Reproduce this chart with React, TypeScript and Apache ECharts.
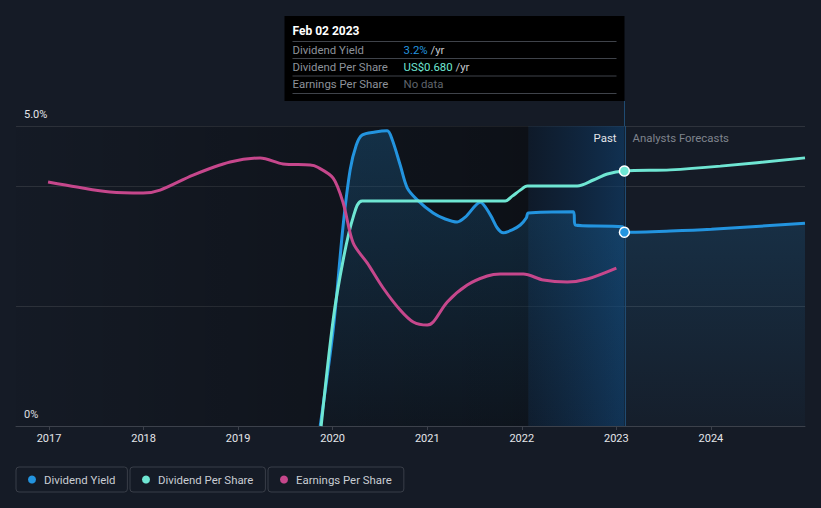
import React, { useEffect, useRef } from "react";
import * as echarts from "echarts";

// x values are decimal years
const xMin = 2016.651;
const xMax = 2024.995;
const yearTicks = [2017, 2018, 2019, 2020, 2021, 2022, 2023, 2024];
const pastEnd = 2023.085; // Feb 02 2023
const bandStart = 2022.07;
const tooltipDate = "Feb 02 2023";

const dividendYield: [number, number][] = [
  [2019.868, 0], [2020.005, 1.6], [2020.111, 3.35], [2020.185, 4.27], [2020.249, 4.68],
  [2020.312, 4.85], [2020.45, 4.9], [2020.577, 4.92], [2020.63, 4.77], [2020.714, 4.35],
  [2020.788, 3.97], [2020.894, 3.77], [2021.063, 3.55], [2021.19, 3.45], [2021.317, 3.4],
  [2021.402, 3.48], [2021.561, 3.73], [2021.667, 3.52], [2021.741, 3.3], [2021.804, 3.22],
  [2021.899, 3.27], [2021.984, 3.35], [2022.048, 3.47], [2022.069, 3.55], [2022.545, 3.57],
  [2022.566, 3.35], [2023.063, 3.32], [2023.085, 3.23], [2023.571, 3.25], [2024.005, 3.28],
  [2024.995, 3.38],
];

const dividendPerShare: [number, number][] = [
  [2019.878, 0], [2020.005, 0.283], [2020.111, 0.443], [2020.217, 0.557], [2020.312, 0.6],
  [2021.825, 0.6], [2021.899, 0.613], [2021.984, 0.629], [2022.058, 0.64], [2022.587, 0.64],
  [2022.757, 0.656], [2022.905, 0.672], [2023.085, 0.68], [2023.571, 0.683], [2024.1, 0.693],
  [2024.995, 0.715],
];

const earningsPerShare: [number, number][] = [
  [2016.99, 1.627], [2017.296, 1.593], [2017.646, 1.56], [2017.995, 1.553], [2018.175, 1.573],
  [2018.524, 1.673], [2018.915, 1.76], [2019.233, 1.787], [2019.476, 1.747], [2019.762, 1.74],
  [2019.836, 1.727], [2020.005, 1.653], [2020.111, 1.487], [2020.217, 1.22], [2020.365, 1.087],
  [2020.534, 0.92], [2020.714, 0.773], [2020.852, 0.693], [2021.0, 0.673], [2021.063, 0.693],
  [2021.212, 0.827], [2021.423, 0.94], [2021.635, 1.0], [2021.772, 1.013], [2022.016, 1.013],
  [2022.228, 0.973], [2022.481, 0.96], [2022.693, 0.98], [2023.0, 1.053],
];

const BLUE = "#2394df";
const TEAL = "#6fe6d3";
const PINK = "#c6478c";
const FONT = "Roboto, sans-serif";
const FS = 11.4;

const valueAt = (arr: [number, number][], x: number) => {
  const p = arr.find((d) => Math.abs(d[0] - x) < 1e-6);
  return p ? p[1] : 0;
};

export default function App() {
  const ref = useRef<HTMLDivElement>(null);
  useEffect(() => {
    if (!ref.current) return;
    const chart = echarts.init(ref.current, undefined, { renderer: "svg" });
    const legendCommon = {
      top: 467,
      icon: "circle",
      itemWidth: 8,
      itemHeight: 8,
      itemGap: 0,
      padding: [7, 12],
      borderColor: "#393e48",
      borderWidth: 1,
      borderRadius: 3,
      selectedMode: false,
      textStyle: { color: "#c9cdd3", fontSize: FS, fontFamily: FONT, padding: [0, 0, 0, 3] },
    };
    const yieldNow = valueAt(dividendYield, pastEnd);
    const dpsNow = valueAt(dividendPerShare, pastEnd);
    chart.setOption({
      animation: false,
      backgroundColor: "#151b26",
      textStyle: { fontFamily: FONT },
      grid: { left: 16, right: 16, top: 126, bottom: 82 },
      legend: [
        { ...legendCommon, left: 16, data: ["Dividend Yield"] },
        { ...legendCommon, left: 130, data: ["Dividend Per Share"] },
        { ...legendCommon, left: 268, data: ["Earnings Per Share"] },
      ],
      xAxis: {
        type: "value",
        min: xMin,
        max: xMax,
        axisLine: { show: true, onZero: false, lineStyle: { color: "#3c414b", width: 1 } },
        axisTick: { show: true, customValues: yearTicks, length: 4, lineStyle: { color: "#3c414b" } },
        axisLabel: {
          customValues: yearTicks,
          formatter: (v: number) => String(Math.round(v)),
          color: "#e4e6ea",
          fontSize: 11,
          margin: 7,
        },
        splitLine: { show: false },
      },
      yAxis: [
        {
          type: "value",
          min: 0,
          max: 5,
          interval: 5,
          position: "left",
          axisLine: { show: false },
          axisTick: { show: false },
          axisLabel: {
            inside: true,
            margin: 8,
            verticalAlign: "bottom",
            padding: [0, 0, 6, 0],
            color: "#e4e6ea",
            fontSize: 11,
            showMinLabel: true,
            showMaxLabel: true,
            formatter: (v: number) => (v === 0 ? "0%" : v.toFixed(1) + "%"),
          },
          splitLine: { show: true, lineStyle: { color: "#3a3f48", width: 1 } },
        },
        {
          type: "value",
          min: 0,
          max: 0.8,
          interval: 0.32,
          position: "right",
          axisLine: { show: false },
          axisTick: { show: false },
          axisLabel: { show: false },
          splitLine: { show: true, lineStyle: { color: "#2e333c", width: 1 } },
        },
        { type: "value", min: 0, max: 2, show: false },
      ],
      series: [
        {
          name: "Dividend Yield",
          type: "line",
          yAxisIndex: 0,
          data: dividendYield,
          smooth: 0.3,
          symbol: "none",
          lineStyle: { color: BLUE, width: 3 },
          itemStyle: { color: BLUE },
          areaStyle: {
            color: new echarts.graphic.LinearGradient(0, 0, 0, 1, [
              { offset: 0, color: "rgba(35,148,223,0.32)" },
              { offset: 1, color: "rgba(35,148,223,0.04)" },
            ]),
          },
          markArea: {
            silent: true,
            data: [
              [
                {
                  xAxis: xMin,
                  itemStyle: {
                    color: new echarts.graphic.LinearGradient(0, 0, 1, 0, [
                      { offset: 0, color: "rgba(0,0,0,0.03)" },
                      { offset: 1, color: "rgba(0,0,0,0.4)" },
                    ]),
                  },
                },
                { xAxis: bandStart },
              ],
              [
                {
                  xAxis: bandStart,
                  itemStyle: {
                    color: new echarts.graphic.LinearGradient(0, 0, 1, 0, [
                      { offset: 0, color: "rgba(8,25,45,0.5)" },
                      { offset: 1, color: "rgba(14,62,108,0.62)" },
                    ]),
                  },
                },
                { xAxis: pastEnd },
              ],
            ],
          },
          markLine: {
            silent: true,
            symbol: ["none", "none"],
            label: { show: false },
            lineStyle: { color: "#1f4b72", width: 1, type: "solid" },
            data: [{ xAxis: pastEnd }],
          },
          markPoint: {
            silent: true,
            symbol: "circle",
            symbolSize: 10,
            label: { show: false },
            itemStyle: { color: BLUE, borderColor: "#ffffff", borderWidth: 1.5 },
            data: [{ coord: [pastEnd, yieldNow] }],
          },
        },
        {
          name: "Dividend Per Share",
          type: "line",
          yAxisIndex: 1,
          data: dividendPerShare,
          smooth: 0.3,
          symbol: "none",
          lineStyle: { color: TEAL, width: 3 },
          itemStyle: { color: TEAL },
          markPoint: {
            silent: true,
            symbol: "circle",
            symbolSize: 10,
            label: { show: false },
            itemStyle: { color: TEAL, borderColor: "#ffffff", borderWidth: 1.5 },
            data: [{ coord: [pastEnd, dpsNow] }],
          },
        },
        {
          name: "Earnings Per Share",
          type: "line",
          yAxisIndex: 2,
          data: earningsPerShare,
          smooth: 0.3,
          symbol: "none",
          lineStyle: { color: PINK, width: 3 },
          itemStyle: { color: PINK },
        },
      ],
    });

    const px = Math.round(chart.convertToPixel({ xAxisIndex: 0 }, pastEnd) as number) + 0.5;
    const boxW = 340;
    const bx = px - boxW;
    const lab = { fill: "#8d929a", fontSize: FS, fontFamily: FONT };
    const sepColor = "#3f434a";
    const rows = [
      { y: 49.5, label: "Dividend Yield", text: `{v|${yieldNow.toFixed(1)}%}{u| /yr}`, col: BLUE },
      { y: 66.5, label: "Dividend Per Share", text: `{v|US$${dpsNow.toFixed(3)}}{u| /yr}`, col: TEAL },
      { y: 84, label: "Earnings Per Share", text: `{n|No data}`, col: "#5f646c" },
    ];
    const graphic: any[] = [
      { type: "line", z: 50, shape: { x1: px, y1: 101, x2: px, y2: 126 }, style: { stroke: "#1f4b72", lineWidth: 1 } },
      { type: "rect", z: 100, shape: { x: bx, y: 16, width: boxW, height: 85 }, style: { fill: "#000000" } },
      {
        type: "text", z: 101, x: bx + 8, y: 31,
        style: { text: tooltipDate, fill: "#ffffff", fontSize: 12, fontWeight: "bold", fontFamily: FONT, verticalAlign: "middle" },
      },
    ];
    [41, 58, 75.5, 93].forEach((y) => {
      graphic.push({
        type: "line", z: 101,
        shape: { x1: bx + 8, y1: y + 0.5, x2: px - 8, y2: y + 0.5 },
        style: { stroke: sepColor, lineWidth: 1 },
      });
    });
    rows.forEach((r) => {
      graphic.push({
        type: "text", z: 101, x: bx + 8, y: r.y,
        style: { text: r.label, ...lab, verticalAlign: "middle" },
      });
      graphic.push({
        type: "text", z: 101, x: bx + 119, y: r.y,
        style: {
          text: r.text,
          verticalAlign: "middle",
          fontFamily: FONT,
          fontSize: FS,
          rich: {
            v: { fill: r.col, fontSize: FS, fontFamily: FONT },
            u: { fill: "#c4c7cc", fontSize: FS, fontFamily: FONT },
            n: { fill: "#5f646c", fontSize: FS, fontFamily: FONT },
          },
        },
      });
    });
    graphic.push({
      type: "text", z: 60, x: px - 8, y: 138,
      style: { text: "Past", fill: "#e2e4e8", fontSize: FS, fontFamily: FONT, align: "right", verticalAlign: "middle" },
    });
    graphic.push({
      type: "text", z: 60, x: px + 8, y: 138,
      style: { text: "Analysts Forecasts", fill: "#7f848d", fontSize: FS, fontFamily: FONT, align: "left", verticalAlign: "middle" },
    });
    chart.setOption({ graphic });

    return () => chart.dispose();
  }, []);
  return (
    <div
      ref={ref}
      style={{ position: "fixed", left: 0, top: 0, width: 821, height: 508 }}
    />
  );
}
